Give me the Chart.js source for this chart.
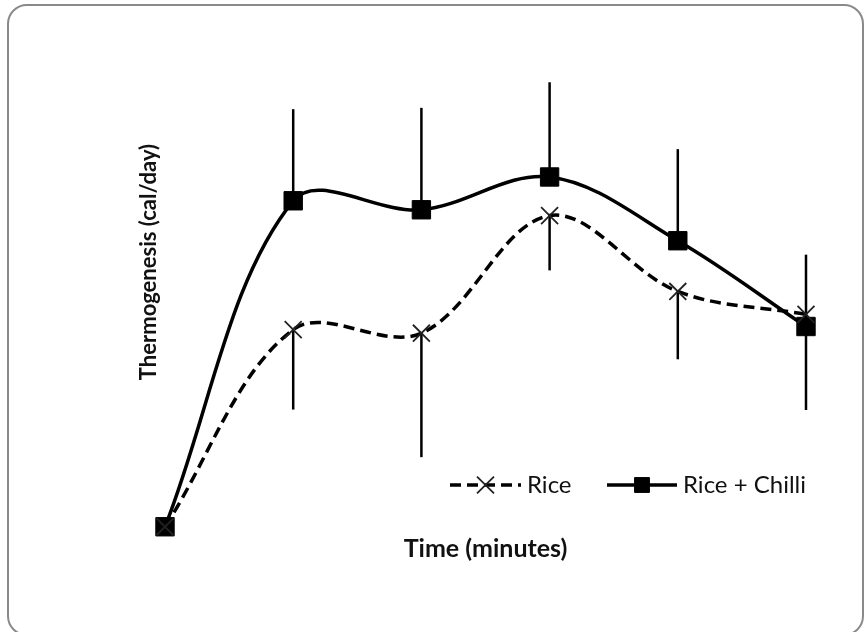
<!DOCTYPE html>
<html>
<head>
<meta charset="utf-8">
<script src="https://cdn.jsdelivr.net/npm/chart.js@4/dist/chart.umd.min.js"></script>
<style>
  html, body { margin: 0; padding: 0; background: #fff; }
  #wrap { position: relative; width: 864px; height: 632px; overflow: hidden; }
  #grafico { position: absolute; left: 0; top: 0; }
  #moldura {
    position: absolute; left: 7px; top: 4px; width: 857px; height: 632px;
    border: 2px solid #8a8a8a; border-radius: 20px; box-sizing: border-box;
  }
</style>
</head>
<body>
<div id="wrap">
  <canvas id="grafico" width="864" height="632"></canvas>
  <div id="moldura"></div>
</div>
<script>
const tempos = ["0", "30", "60", "90", "120", "150"];
const rice = [0.5, 44.4, 43.6, 69.8, 52.9, 47.8];
const riceErr = [0, 17.8, 27.6, 12.2, 15.1, 21.3];
const riceChilli = [0.5, 73.1, 71.1, 78.4, 64.2, 45.1];
const riceChilliErr = [0, 20.4, 22.7, 21.1, 20.4, 16.0];

const tituloY = "Thermogenesis (cal/day)";
const tituloX = "Time (minutes)";
const fonte = "Lato, 'Open Sans', sans-serif";

document.addEventListener("DOMContentLoaded", () => {
  // barras de erro: Rice para baixo, Rice + Chilli para cima
  const barrasErro = {
    id: "barrasErro",
    beforeDatasetsDraw(chart) {
      const ctx = chart.ctx;
      const y = chart.scales.y;
      ctx.save();
      ctx.strokeStyle = "#000";
      ctx.lineWidth = 2.5;
      chart.data.datasets.forEach((ds, i) => {
        const meta = chart.getDatasetMeta(i);
        meta.data.forEach((pt, j) => {
          const e = ds.erro[j];
          if (!e) return;
          const fim = ds.data[j] + ds.sentido * e;
          ctx.beginPath();
          ctx.moveTo(pt.x, y.getPixelForValue(ds.data[j]));
          ctx.lineTo(pt.x, y.getPixelForValue(fim));
          ctx.stroke();
        });
      });
      ctx.restore();
    }
  };

  // legenda dentro da área do gráfico + título do eixo Y
  const legendaETitulo = {
    id: "legendaETitulo",
    afterDraw(chart) {
      const ctx = chart.ctx;
      const ly = 485;
      const itens = [
        { ds: 0, de: 450, ate: 521, texto: 527, raio: 12 },
        { ds: 1, de: 607, ate: 677, texto: 683, raio: 10.5 }
      ];
      ctx.save();
      itens.forEach(it => {
        const ds = chart.data.datasets[it.ds];
        ctx.strokeStyle = ds.borderColor;
        ctx.lineWidth = ds.borderWidth;
        ctx.setLineDash(ds.borderDash || []);
        ctx.beginPath();
        ctx.moveTo(it.de, ly);
        ctx.lineTo(it.ate, ly);
        ctx.stroke();
        ctx.setLineDash([]);
        ctx.fillStyle = ds.pointBackgroundColor;
        ctx.strokeStyle = ds.pointBorderColor;
        ctx.lineWidth = ds.pointBorderWidth;
        Chart.helpers.drawPoint(ctx, {
          pointStyle: ds.pointStyle, radius: it.raio, rotation: 0, borderWidth: ds.pointBorderWidth
        }, (it.de + it.ate) / 2, ly);
        ctx.fillStyle = "#111";
        ctx.font = "24px " + fonte;
        ctx.textBaseline = "middle";
        ctx.fillText(ds.label, it.texto, ly);
      });

      ctx.translate(149, 262);
      ctx.rotate(-Math.PI / 2);
      ctx.fillStyle = "#111";
      ctx.font = "bold 22px " + fonte;
      ctx.textAlign = "center";
      ctx.textBaseline = "middle";
      ctx.fillText(tituloY, 0, 0);
      ctx.restore();
    }
  };

  const ctx = document.getElementById("grafico").getContext("2d");
  new Chart(ctx, {
    type: "line",
    data: {
      labels: tempos,
      datasets: [
        {
          label: "Rice",
          data: rice,
          erro: riceErr,
          sentido: -1,
          borderColor: "#000",
          borderWidth: 3.5,
          borderDash: [11, 6],
          tension: 0.35,
          pointStyle: "crossRot",
          pointRadius: 12,
          pointBorderWidth: 1.8,
          pointBorderColor: "#222",
          pointBackgroundColor: "#222",
          clip: false
        },
        {
          label: "Rice + Chilli",
          data: riceChilli,
          erro: riceChilliErr,
          sentido: 1,
          borderColor: "#000",
          borderWidth: 3.5,
          tension: 0.35,
          pointStyle: "rect",
          pointRadius: 13,
          pointBorderWidth: 1,
          pointBorderColor: "#000",
          pointBackgroundColor: "#000",
          clip: false
        }
      ]
    },
    options: {
      responsive: false,
      animation: false,
      layout: { padding: { left: 165, right: 58, top: 80, bottom: 64 } },
      plugins: {
        legend: { display: false },
        tooltip: { enabled: false }
      },
      scales: {
        x: {
          offset: false,
          grid: { display: false, drawTicks: false },
          border: { display: false },
          ticks: { display: false },
          title: {
            display: true,
            text: tituloX,
            color: "#111",
            font: { family: fonte, size: 25, weight: "bold", lineHeight: 1.2 },
            padding: { top: 5, bottom: 4 }
          }
        },
        y: { display: false, min: 0, max: 100 }
      }
    },
    plugins: [barrasErro, legendaETitulo]
  });
});
</script>
</body>
</html>
